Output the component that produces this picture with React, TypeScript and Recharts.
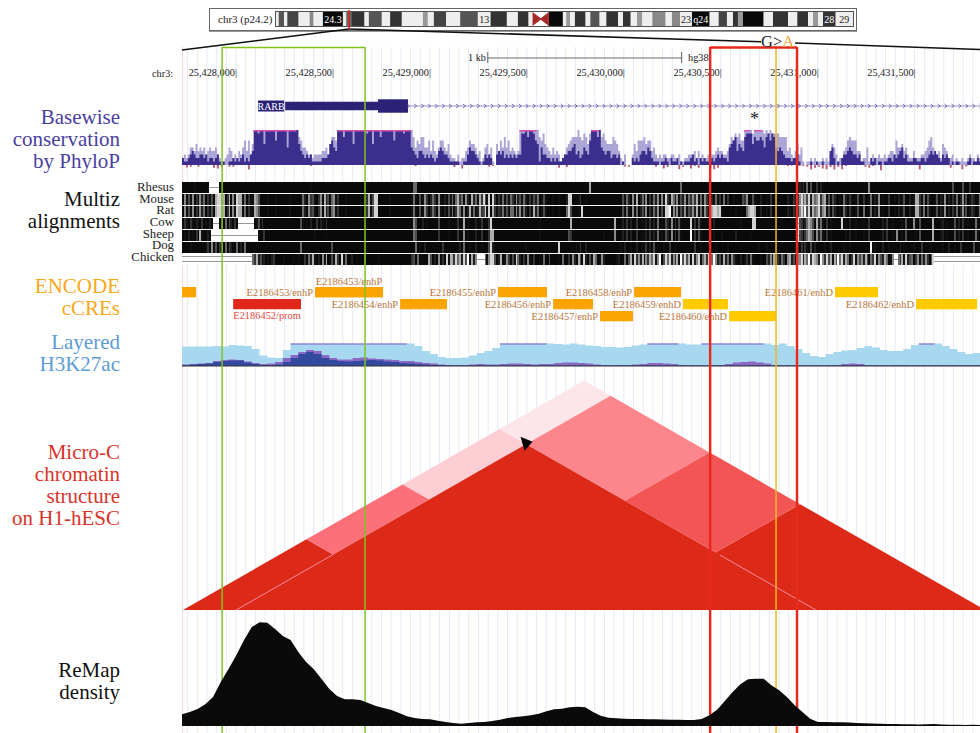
import React from "react";
import { Area, Bar, BarChart, ComposedChart, Line, ReferenceArea, ReferenceDot, ReferenceLine, XAxis, YAxis } from "recharts";

const SERIF = "'Liberation Serif', serif";
const START = 25427721;
const END = 25431837;
const TRACK_LEFT = 182;
const TRACK_W = 798;

const rulerTicks = [25428000, 25428500, 25429000, 25429500, 25430000, 25430500, 25431000, 25431500];

// phyloP, 10 bp cells, one digit per cell, a = clipped at 10
const phyloMean = "2112343223 3231221231 0100112121 2312134aa9 aa6aaaaa7a aaaa5aaaaa 6432323111 1122236754 aaa8aaaa6a aaaaa9aa6a aa8aaaaaa7 aaaa9aaa54 3244323232 1245433211 1110011354 4321013232 0034342323 2323399a8a a976153322 1212112334 4563423543 7aaa8a5434 4233230100 0021213443 5421110112 1021120101 1123120212 1112123232 2156784654 8999687787 5897985454 3222122310 0000100100 1000452010 2334543323 1100021201 1011221323 4523111221 1221234343 2132320101 1000012011 2111101000";
const phyloMax = "2323554645 4534544532 1123542324 3574736aaa aaaaaaaaaa aaaaaaaaaa 8755433233 3344536887 aaaaaaaaaa aaaaaaaaaa aaaaaaaaaa aaaaaaaaa8 5768855747 4357754632 2131224576 6534125635 1064758574 5434aaaaaa aaaa879654 3534312356 7888a87986 9aaaaa8976 6687642130 0036477786 7745323233 2233213112 2333414232 2323345443 3468798977 aaaa9aaaaa 9a9a999988 8845324635 1011212011 2121365312 2457877744 1225113223 2232344375 5645322412 2334578533 4265422312 1121123221 3222212100";
const phyloDip = [
  0, .7, .5, 0, .5, 0, 0, 0, .8, 1,
  .6, 0, .5, .5, 0, 0, 0, 1.3, 0, 0,
  0, 0, 0, 0, 0, 0, 0, 0, 0, 0,
  0, 0, 0, .3, 0, 0, 0, 0, 0, 0,
  0, 0, 0, 0, 0, 0, 0, 0, 0, 0,
  0, 0, 0, 0, 0, 0, 0, 0, 0, 0,
  .3, 0, 0, 0, 0, 0, 0, 0, 0, 0,
  .6, 0, 1, 0, 0, 0, 0, 0, 0, .5,
  .3, 0, 0, 0, 0, 0, 0, 0, 0, 0,
  0, 0, 0, 0, 0, 0, 0, .8, 0, .6,
  0, 0, 0, 0, 0, 0, 0, 0, 0, 0,
  0, 0, 0, 0, .4, .5, 0, 0, 0, 0,
  0, 0, .5, 0, 1, .6, 0, 0, 1.2, .5,
  0, 1, .3, .8, 0, 0, 1, 1.2, .8, 0,
  0, 0, 0, 0, 0, 0, 0, 0, 0, 0,
  0, 0, 0, 0, 0, 0, .3, .2, 0, .3,
  .3, .5, 1.3, .8, .5, 1, 1.2, .6, 1.3, .5,
  1.2, .3, 0, 0, 0, 0, .5, .8, .3, 0,
  1.5, 0, 0, 0, 0, 0, 0, 0, 0, 0,
  1.3, 0, 0, 0, 0, 0, 0, 0, .8, 0,
  0, 1.2, .4, 0, 0, 0,
];

// multiz, 10 bp cells, 0 black to 9 white, g = gap with one line, d = gap with two lines
const multizNames = ["Rhesus", "Mouse", "Rat", "Cow", "Sheep", "Dog", "Chicken"];
const multizRhesus = "0000001000 0000ggggg0 0000000000 0000000000 0000000000 0000000000 0000001000 0000000000 0000000000 0000000000 0000000000 0000000005 5000000000 0000000000 0000000000 0000000000 0000000000 0000000000 0000000000 0000000000 0000000000 7000000000 0000000000 0000000000 0000000000 0000000500 0000000000 0000000000 0000000000 0000000000 0000000000 0000000121 3050400302 0000000000 0000000000 0000600000 0000000000 0000000000 0000000000 0000000400 0040003000 0000000000";
const multizMouse = "0614160316 2503140788 7703706187 7150311764 0000100010 0000010000 0052063410 3607240561 3000100000 0010037148 8000000100 0000000015 1040163025 3061020415 1573516207 2517384180 8303151415 3162415203 1425014100 0100100028 8000130010 0000000000 0000000415 2061702516 0315260618 3175261426 1536371516 3142151305 0300100004 3600410020 0103001000 0021030368 5748275683 6714042101 0520310140 0300150216 0100300102 0140020177 3150410014 0216020315 0260401320 1504002100";
const multizRat = "0614160316 2503140788 7703706187 7150311764 0000100010 0000010000 0052063410 3607240561 3000100000 0010037148 8000000100 0000000015 1040163025 3061020415 1375160271 5127348180 7313251415 5162615203 1725014100 0100100058 4000108000 0000000000 0000000415 1061502416 0315260418 8916261426 1436271516 3147887810 0000010000 0578870020 0103001000 0021030368 5948275683 6714042101 0520310140 0500150216 0100300102 0140020177 3150410014 0216020315 0260401320 1504002100";
const multizCow = "0310310210 301020ggg0 305042030g ggggggg014 0300000000 0000000000 0410102003 0210300000 0000000000 0000000000 0000000000 0000000006 4000201000 0040000100 0030070100 0200300038 0000000000 0000000000 0000100000 0000000000 7000000000 0000000000 0007000203 0200300102 0302050104 2060304100 0080304100 0000200000 0000000010 0000880000 0000000000 0000000g43 0257640725 1030100000 8010200100 0100300000 0203001000 0104000610 4000000700 0120100040 2030010005 1050100210";
const multizSheep = "0102010307 10020ggggg gggggggggg ggggggggg0 0030000000 0000000000 0000000010 0000100000 0000000000 0000000000 0000000000 0000000005 4000000000 0030000100 0030060100 0200300037 7000000000 0000000000 0000100000 0000000004 3000000000 0000000100 0006000203 0200300102 0302050104 2060304100 0090304100 0000100010 0000020000 0001000000 0000000000 0000000g43 0357640625 1030100000 0010200100 0100300000 0203001060 0104000010 4000000700 0120100040 2030010005 1050100210";
const multizDog = "0000100000 0013061403 1050420050 2050000000 0000000000 0000000000 0500000000 0000000400 0000000000 0000000000 0000000000 0000000000 5010020000 0000300000 0002050010 0200100048 2000000000 0000000100 0000000000 0000800000 0001030020 0000000000 0000001020 0100200103 0204000010 0300100000 0000300100 0000010000 0100000000 0000000100 0100000000 0000000213 0310402000 0100200000 0100100000 0000090100 0200100000 2010000100 0300010000 0010020010 0300000040 1020100000";
const multizChicken = "dddddddddd dddddddddd dddddddddd dddddd5372 4120102300 0010000100 1003052710 2061700417 3081500200 1000300000 0100000000 0000000034 0501000740 2060308177 3857284917 26gggg5168 8402701630 4185203061 0300105004 0000105003 0620740820 4175016200 0000120050 4718362716 3758169048 5826371948 4718268157 3815962417 2506310020 1305100010 0426170315 3067240668 2759387629 6384717495 8275038164 6274053816 4275016gg5 3718245036 15263048dd dddddddddd dddddddddd dddddddddd";
const multizRows = [multizRhesus, multizMouse, multizRat, multizCow, multizSheep, multizDog, multizChicken];

// cCRE name, start, end, lane, label place
const ccreNames = ["", "E2186453/enhP", "E2186453/enhP", "E2186452/prom", "E2186454/enhP", "E2186455/enhP", "E2186456/enhP", "E2186457/enhP", "E2186458/enhP", "E2186459/enhD", "E2186460/enhD", "E2186461/enhD", "E2186462/enhD"];
const ccreStarts = [25427721, 25428407, 25428407, 25427985, 25428846, 25429351, 25429635, 25429877, 25430053, 25430305, 25430543, 25431089, 25431507];
const ccreEnds = [25427794, 25428758, 25428758, 25428335, 25429088, 25429604, 25429841, 25430047, 25430295, 25430537, 25430785, 25431311, 25431822];
const ccreLanes = [0, 0, 0, 1, 1, 0, 1, 2, 0, 1, 2, 0, 1];
const ccreColors = ["#f9a400", "#f9a400", "#f9a400", "#e0281a", "#f9a400", "#f9a400", "#f9a400", "#f9a400", "#f9a400", "#ffcb00", "#ffcb00", "#ffcb00", "#ffcb00"];
const ccrePlaces = ["left", "left", "top", "bottom", "left", "left", "left", "left", "left", "left", "left", "left", "left"];

// H3K27ac, 40 bp bins
const acPale = [19.5, 19.5, 19.5, 19.5, 20, 19.5, 21, 20.5, 20, 17, 10.5, 8.5, 8, 16, 22.5, 22.5, 22.5, 22.5, 22.5, 22.5, 22.5, 22.5, 22.5, 22.5, 22.5, 22.5, 22.5, 22.5, 22.5, 22.5, 20, 15, 12, 9, 8, 8, 8.5, 10.5, 13, 15, 18, 22.5, 22.5, 22.5, 22.5, 22.5, 22.5, 22.5, 22, 21.5, 22.5, 21.5, 20.5, 20, 19, 19, 18.5, 19, 20.5, 21.5, 22.5, 22.5, 22.5, 22.5, 22.5, 21.5, 21.5, 22.5, 22.5, 22.5, 22.5, 22.5, 22.5, 22.5, 22.5, 22.5, 21, 22.5, 20, 17, 13, 10, 9, 12, 14, 15.5, 16, 18, 20, 18.5, 16, 15, 15, 17, 21, 22.5, 22.5, 22.5, 20, 17, 14, 12, 13, 14];
const acPurple = [1.5, 2, 2.5, 3, 5, 6, 6.5, 6, 4.5, 3, 2, 2.5, 4, 8, 11, 14, 16, 15, 11, 8, 6.5, 6.5, 8, 8.5, 7.5, 7, 6.5, 6, 5, 5, 4, 3, 2.5, 1.5, 1, 1, 1, 1.5, 2, 1.5, 1.5, 2, 2.5, 2.5, 2, 1.5, 2, 2, 3, 3.5, 3.5, 3, 2.5, 1.5, 1, .8, 1, 1, 1.5, 2, 3, 3, 2.5, 2, 1, .8, .8, .8, .8, 1, 2, 3.5, 4, 4.5, 3.5, 2.5, 1, .8, .8, .8, .8, .8, .8, .8, 1, 2, 2.5, 2, .8, .8, .8, .8, .8, .8, .8, .8, .8, .8, .8, .8, .8, .8, .8, .8];
const acBlue = [1, 1.5, 2, 2.5, 4, 5, 5.5, 5.5, 3.5, 2, 1, 1, 1.5, 4, 8, 12, 14, 12, 8, 6, 5, 4.5, 5, 5.5, 6, 5.5, 4.5, 4, 3, 2.5, 2, 1.5, 1, .8, .5, .5, .5, .5, .5, .5, .5, .5, .5, .6, .6, .6, .6, .5, .5, .5, .5, .5, .5, .5, .5, .5, .5, .5, .5, .5, .5, .5, .5, .5, .5, .5, .5, .5, .5, .5, .5, .5, .5, .5, .5, .5, .5, .5, .5, .5, .5, .5, .5, .5, .5, .5, .5, .5, .5, .5, .5, .5, .5, .5, .5, .5, .5, .5, .5, .5, .5, .5, .5, .5];

// ReMap density, 40 bp bins
const remap = [11.7, 14, 17, 21.7, 29, 44, 57, 70.7, 86, 99, 103.7, 103.3, 97, 90, 86, 74, 64, 56.7, 47, 37, 30, 26.7, 26.7, 26, 23, 20, 18, 16, 13, 9.7, 8, 7, 6.7, 5.3, 4, 3, 2.3, 3, 3.7, 4, 5, 6.3, 8, 9, 9.7, 10.7, 12.3, 14.7, 16.7, 17.3, 18.7, 19.3, 18.7, 14, 10.3, 8.3, 7.7, 7.3, 7, 7, 6.7, 6.7, 6.5, 6.3, 6.3, 6, 6, 7, 10.7, 16.3, 25, 34, 41.7, 46.7, 47.3, 47.3, 40.7, 35.7, 29, 20.7, 14, 7.3, 4, 4, 3.8, 3.7, 3.5, 3, 2.7, 2.5, 2.3, 2, 2, 1.8, 1.7, 1.5, 1.7, 2, 1.5, 1.2, 1.2, 1, 1.2, 1];

// Micro-C contact blocks, arm intervals in bp
const tadTriangles = [
  { a: 25427726, b: 25429000, fill: "#dd2a18" },
  { a: 25429955, b: 25431863, fill: "#dd2a18" },
];
const contactBlocks = [
  { u: [25427726, 25428000], v: [25430991, 25431863], fill: "#fde6e9" },
  { u: [25427726, 25428000], v: [25429991, 25430991], fill: "#fdcfd4" },
  { u: [25427726, 25428000], v: [25429000, 25429991], fill: "#fb7079" },
  { u: [25428000, 25429021], v: [25430991, 25431863], fill: "#fd858c" },
  { u: [25429021, 25429955], v: [25430991, 25431863], fill: "#f35555" },
];
const mainTad = { a: 25428000, b: 25430991, fill: "#dd2a18" };

// ideogram widths, colours and labels
const bandWidths = [2.7, 5.3, 3.3, 11.3, 11, 4, 9.3, 20, 3.3, 5, 13.3, 4.3, 13, 8.3, 11.7, 21, 5, 6, 12.3, 14, 17.7, 12.7, 16.3, 11, 10.7, 4, 16.3, 14, 3.3, 4, 4.7, 10.7, 4.7, 9.3, 6.7, 11.7, 5, 7.7, 6.3, 5.3, 10, 13.3, 6.3, 8.3, 11.7, 17.7, 9, 8.3, 6, 5, 5, 20.7, 9.3, 15, 9.3, 10.7, 5, 5, 5, 12.7, 17.3];
const bandColors = ["#eee", "#555", "#eee", "#444", "#eee", "#888", "#eee", "#0a0a0a", "#eee", "#666", "#333", "#eee", "#555", "#eee", "#333", "#eee", "#999", "#eee", "#444", "#eee", "#555", "#eee", "#333", "#eee", "#333", "#eee", "none", "#0a0a0a", "#eee", "#999", "#eee", "#333", "#eee", "#555", "#eee", "#333", "#eee", "#333", "#eee", "#999", "#eee", "#888", "#eee", "#888", "#eee", "#0a0a0a", "#eee", "#444", "#eee", "#333", "#999", "#0a0a0a", "#eee", "#333", "#eee", "#333", "#eee", "#999", "#eee", "#333", "#eee"];
const bandLabels: { [k: number]: string } = { 7: "24.3", 21: "13", 44: "23", 45: "q24", 59: "28", 60: "29" };

const geneExons = [
  { start: 25428253, end: 25428737, pad: 2.6 },
  { start: 25428732, end: 25428887, pad: 4.2 },
];
const geneChevrons = Array.from({ length: 84 }, (_, i) => ({ x: 25428890 + i * 36, y: 0 }));
const guideBp = Array.from({ length: 83 }, (_, i) => 25427750 + i * 50);

const digitValue = (c: string) => (c === "a" ? 10 : Number(c));
const phyloMaxCells = phyloMax.replace(/ /g, "").split("");
const phyloMeanCells = phyloMean.replace(/ /g, "").split("");

const phyloData = phyloMaxCells.map((c, i) => ({
  x: START + i * 10,
  max: digitValue(c),
  mean: digitValue(phyloMeanCells[i]),
  dip: i % 2 ? 0 : -(phyloDip[i / 2] || 0),
  cap: c === "a" ? [9.55, 10] : null,
}));
const acData = acPale.map((p, i) => ({
  x: START + i * 40,
  pale: p,
  purple: acPurple[i],
  blue: acBlue[i],
  cap: p >= 22.5 ? [21.5, 22.5] : null,
}));
const remapData = remap.map((h, i) => ({ x: START + i * 40, h }));

function trianglePoints(a: number, b: number) {
  return [
    { x: a, r: [0, 0] },
    { x: (a + b) / 2, r: [0, (b - a) / 2] },
    { x: b, r: [0, 0] },
  ];
}

// corners of a block in rotated contact space, x = (u+v)/2, h = (v-u)/2
function blockPoints(u: number[], v: number[]) {
  const left = { x: (u[0] + v[0]) / 2, h: (v[0] - u[0]) / 2 };
  const top = { x: (u[0] + v[1]) / 2, h: (v[1] - u[0]) / 2 };
  const bottom = { x: (u[1] + v[0]) / 2, h: (v[0] - u[1]) / 2 };
  const right = { x: (u[1] + v[1]) / 2, h: (v[1] - u[1]) / 2 };
  const upper = (x: number) => (x <= top.x ? left.h + (x - left.x) : top.h - (x - top.x));
  const lower = (x: number) => (x <= bottom.x ? left.h - (x - left.x) : bottom.h + (x - bottom.x));
  return [left, top, bottom, right]
    .map((p) => p.x)
    .sort((p, q) => p - q)
    .map((x) => ({ x, r: [lower(x), upper(x)] }));
}

function shadeOf(c: string) {
  if (c === "g" || c === "d") return "#fff";
  const g = Math.round(10 + Math.pow(Number(c), 1.6) * 7.2);
  return `rgb(${g},${g},${g})`;
}

function MultizCell(props: any) {
  const { x, y, width, height, payload } = props;
  const c = payload.c;
  return (
    <g shapeRendering="crispEdges">
      <rect x={x} y={y} width={width + 0.5} height={height} fill={shadeOf(c)} />
      {c === "g" && <rect x={x} y={y + height / 2 - 0.5} width={width + 0.5} height={1} fill="#999" />}
      {c === "d" && <rect x={x} y={y + 2} width={width + 0.5} height={1} fill="#999" />}
      {c === "d" && <rect x={x} y={y + height - 4} width={width + 0.5} height={1} fill="#999" />}
    </g>
  );
}

function MultizRow({ row, top }: { row: string; top: number }) {
  const cells = row.replace(/ /g, "").padEnd(420, "0").split("").map((c, i) => ({ i, c, v: 1 }));
  return (
    <div style={{ position: "absolute", left: TRACK_LEFT, top }}>
      <BarChart width={420 * (TRACK_W / 411.5)} height={11} data={cells} margin={{ top: 0, right: 0, bottom: 0, left: 0 }} barCategoryGap={0} barGap={0}>
        <XAxis dataKey="i" hide />
        <YAxis hide domain={[0, 1]} />
        <Bar dataKey="v" isAnimationActive={false} shape={MultizCell} />
      </BarChart>
    </div>
  );
}

function Track({ top, height, yDomain, data, children }: any) {
  return (
    <div style={{ position: "absolute", left: TRACK_LEFT, top }}>
      <ComposedChart width={TRACK_W} height={height} data={data} margin={{ top: 0, right: 0, bottom: 0, left: 0 }}>
        <XAxis type="number" dataKey="x" domain={[START, END]} allowDataOverflow hide />
        <YAxis type="number" domain={yDomain} allowDataOverflow hide />
        {children}
      </ComposedChart>
    </div>
  );
}

function RulerTick({ x, y, payload }: any) {
  return (
    <text x={x + 1} y={y} textAnchor="end" fontFamily={SERIF} fontSize={10.3} fill="#222">
      {payload.value.toLocaleString("en-US")}|
    </text>
  );
}

function Chevron({ cx, cy }: any) {
  return <path d={`M${cx - 1.5} ${cy - 2}L${cx + 1} ${cy}L${cx - 1.5} ${cy + 2}`} fill="none" stroke="#5a52a8" strokeWidth={0.8} />;
}

function Arrowhead({ cx, cy }: any) {
  return <path d={`M${cx - 6} ${cy - 7}L${cx + 6} ${cy - 2}L${cx - 2} ${cy + 7}Z`} fill="#000" />;
}

function Ideogram() {
  let pos = 0;
  const bands = bandWidths.map((w, i) => {
    const b = { x1: pos, x2: pos + w, fill: bandColors[i], label: bandLabels[i] };
    pos += w;
    return b;
  });
  const cen = bands[26];
  const bowtie = [
    { x: cen.x1, r: [0, 1] },
    { x: (cen.x1 + cen.x2) / 2, r: [0.45, 0.55] },
    { x: cen.x2, r: [0, 1] },
  ];
  return (
    <div style={{ position: "absolute", left: 276, top: 12 }}>
      <ComposedChart width={577} height={14} data={bowtie} margin={{ top: 0, right: 0, bottom: 0, left: 0 }}>
        <XAxis type="number" dataKey="x" domain={[0, pos]} hide />
        <YAxis type="number" domain={[0, 1]} hide />
        {bands.filter((b) => b.fill !== "none").map((b, i) => (
          <ReferenceArea
            key={i} x1={b.x1} x2={b.x2} y1={0} y2={1} fill={b.fill} fillOpacity={1} stroke="none"
            label={b.label ? { value: b.label, position: "center", fontFamily: SERIF, fontSize: 10, fill: b.fill === "#eee" ? "#222" : "#fff" } : undefined}
          />
        ))}
        <Area dataKey="r" type="linear" fill="#a52a2a" fillOpacity={1} stroke="none" isAnimationActive={false} />
      </ComposedChart>
    </div>
  );
}

function SideLabel({ top, color, lines }: { top: number; color: string; lines: string[] }) {
  return (
    <div style={{ position: "absolute", left: 0, width: 120, top, textAlign: "right", fontFamily: SERIF, fontSize: 21, lineHeight: "22px", color, whiteSpace: "nowrap" }}>
      {lines.map((l) => <div key={l}>{l}</div>)}
    </div>
  );
}

const boxEdges = [
  { x: 25427928, color: "#7fc41e", w: 1.5 },
  { x: 25428665, color: "#7fc41e", w: 1.5 },
  { x: 25430785, color: "#f0b428", w: 1.5 },
  { x: 25430445, color: "#e8291c", w: 2.4 },
  { x: 25430893, color: "#e8291c", w: 2.4 },
];
const axisAnchors = [{ x: START }, { x: END }];

export default function App() {
  return (
    <div style={{ position: "absolute", left: 0, top: 0, width: 980, height: 733, overflow: "hidden", background: "#fff" }}>
      {/* base guides */}
      <Track top={47} height={686} yDomain={[0, 1]}>
        {guideBp.map((g) => <ReferenceLine key={g} x={g} stroke="#e9e9f8" strokeWidth={1} />)}
        <ReferenceLine x={START + 3} stroke="#f7d4dc" strokeWidth={1} />
      </Track>

      {/* ideogram */}
      <div style={{ position: "absolute", left: 209, top: 8, width: 646, height: 21, border: "1.5px solid #666", boxShadow: "0 1px 0 #999", background: "#fff" }} />
      <div style={{ position: "absolute", left: 275, top: 11, width: 577, height: 14, border: "1px solid #555" }} />
      <div style={{ position: "absolute", left: 218, top: 13, fontFamily: SERIF, fontSize: 11, color: "#222" }}>chr3 (p24.2)</div>
      <Ideogram />

      {/* ruler */}
      <div style={{ position: "absolute", left: 152, top: 68, fontFamily: SERIF, fontSize: 10.3, color: "#222" }}>chr3:</div>
      <div style={{ position: "absolute", left: TRACK_LEFT, top: 40 }}>
        <ComposedChart width={TRACK_W} height={60} margin={{ top: 0, right: 0, bottom: 0, left: 0 }} data={axisAnchors}>
          <XAxis type="number" dataKey="x" domain={[START, END]} ticks={rulerTicks} interval={0} axisLine={false} tickLine={false} tick={RulerTick} height={30} tickMargin={0} />
          <YAxis type="number" domain={[0, 1]} hide />
        </ComposedChart>
      </div>
      <div style={{ position: "absolute", left: 468, top: 52, fontFamily: SERIF, fontSize: 10.3, color: "#222" }}>1 kb</div>
      <div style={{ position: "absolute", left: 688, top: 52, fontFamily: SERIF, fontSize: 10.3, color: "#222" }}>hg38</div>

      {/* gene */}
      <Track top={96} height={20} yDomain={[-10, 10]} data={geneChevrons}>
        <ReferenceArea x1={25428113} x2={25428248} y1={-5.5} y2={5.5} fill="#2b2278" fillOpacity={1} stroke="none"
          label={{ value: "RARB", position: "center", fontFamily: SERIF, fontSize: 10, fill: "#fff" }} />
        <Line dataKey="y" stroke="#6a64b0" strokeWidth={0.7} isAnimationActive={false} dot={Chevron} />
        {geneExons.map((e) => (
          <ReferenceArea key={e.start} x1={e.start} x2={e.end} y1={-e.pad * 1.6} y2={e.pad * 1.6} fill="#2b2278" fillOpacity={1} stroke="none" />
        ))}
      </Track>
      <div style={{ position: "absolute", left: 750, top: 109, fontFamily: SERIF, fontSize: 18, color: "#222" }}>*</div>

      {/* phyloP */}
      <Track top={130} height={45} yDomain={[-2.86, 10]} data={phyloData}>
        <Area dataKey="max" type="stepAfter" fill="#aba6d6" fillOpacity={1} stroke="none" isAnimationActive={false} />
        <Area dataKey="mean" type="stepAfter" fill="#3b2e8c" fillOpacity={1} stroke="none" isAnimationActive={false} />
        <Area dataKey="dip" type="stepAfter" fill="#b8607a" fillOpacity={1} stroke="none" isAnimationActive={false} />
        <Area dataKey="cap" type="stepAfter" fill="#d94fb0" fillOpacity={1} stroke="none" isAnimationActive={false} />
      </Track>

      {/* multiz */}
      {multizRows.map((row, i) => <MultizRow key={i} row={row} top={182 + i * 12.05} />)}
      {multizNames.map((n, i) => (
        <div key={n} style={{ position: "absolute", right: 806, top: 182 + i * 11.65, fontFamily: SERIF, fontSize: 12.8, lineHeight: "11px", color: "#222" }}>{n}</div>
      ))}

      {/* cCREs */}
      <Track top={275} height={60} yDomain={[4, -1]}>
        {ccreNames.map((name, i) => (
          <ReferenceArea
            key={i} x1={ccreStarts[i]} x2={ccreEnds[i]} y1={ccreLanes[i]} y2={ccreLanes[i] + 0.86}
            fill={ccreColors[i]} fillOpacity={1} stroke="none"
            label={name ? { value: name, position: ccrePlaces[i], offset: 2, fontFamily: SERIF, fontSize: 10.4, fill: i === 3 ? "#e8483c" : "#b8773a" } : undefined}
          />
        ))}
      </Track>

      {/* H3K27ac */}
      <Track top={341} height={27} yDomain={[-2, 25]} data={acData}>
        <Area dataKey="pale" type="stepAfter" fill="#a8d8f0" fillOpacity={1} stroke="none" isAnimationActive={false} />
        <Area dataKey="cap" type="stepAfter" fill="#7f5fc4" fillOpacity={1} stroke="none" isAnimationActive={false} />
        <Area dataKey="purple" type="stepAfter" fill="#8a68c4" fillOpacity={1} stroke="none" isAnimationActive={false} />
        <Area dataKey="blue" type="stepAfter" fill="#33499f" fillOpacity={1} stroke="none" isAnimationActive={false} />
        <ReferenceLine y={0} stroke="#333" strokeWidth={1} />
      </Track>

      {/* Micro-C */}
      {tadTriangles.map((t) => (
        <Track key={t.a} top={379} height={231} yDomain={[0, 2083]} data={trianglePoints(t.a, t.b)}>
          <Area dataKey="r" type="linear" fill={t.fill} fillOpacity={1} stroke="none" isAnimationActive={false} />
        </Track>
      ))}
      {contactBlocks.map((b) => (
        <Track key={b.fill} top={379} height={231} yDomain={[0, 2083]} data={blockPoints(b.u, b.v)}>
          <Area dataKey="r" type="linear" fill={b.fill} fillOpacity={1} stroke="none" isAnimationActive={false} />
        </Track>
      ))}
      <Track top={379} height={231} yDomain={[0, 2083]} data={trianglePoints(mainTad.a, mainTad.b)}>
        <Area dataKey="r" type="linear" fill={mainTad.fill} fillOpacity={1} stroke="none" isAnimationActive={false} />
        <ReferenceLine segment={[{ x: 25428000, y: 0 }, { x: 25428500, y: 500 }]} stroke="#f58aa0" strokeWidth={1} />
        <ReferenceLine segment={[{ x: 25430495, y: 496 }, { x: 25430991, y: 0 }]} stroke="#f58aa0" strokeWidth={1} />
        <ReferenceDot x={25429498} y={1500} r={6} shape={Arrowhead} />
      </Track>

      {/* highlight lines and zoom connector */}
      <div style={{ position: "absolute", left: 0, top: 0 }}>
        <ComposedChart width={980} height={733} margin={{ top: 0, right: 0, bottom: 0, left: TRACK_LEFT }} data={axisAnchors}>
          <XAxis type="number" dataKey="x" domain={[START, END]} allowDataOverflow hide />
          <YAxis type="number" domain={[0, 733]} reversed allowDataOverflow hide />
          <ReferenceLine segment={[{ x: START, y: 50 }, { x: 25428583, y: 29 }]} stroke="#111" strokeWidth={1.6} />
          <ReferenceLine segment={[{ x: 25428583, y: 29 }, { x: 25430708, y: 41.7 }]} stroke="#111" strokeWidth={1.6} />
          <ReferenceLine segment={[{ x: 25430883, y: 43 }, { x: END, y: 49.5 }]} stroke="#111" strokeWidth={1.6} />
          <ReferenceLine segment={[{ x: 25428583, y: 10 }, { x: 25428583, y: 29 }]} stroke="#e0201a" strokeWidth={1.5} />
          <ReferenceLine segment={[{ x: 25429298, y: 58 }, { x: 25430298, y: 58 }]} stroke="#444" strokeWidth={0.8} />
          <ReferenceLine segment={[{ x: 25429298, y: 52 }, { x: 25429298, y: 63 }]} stroke="#444" strokeWidth={0.8} />
          <ReferenceLine segment={[{ x: 25430298, y: 52 }, { x: 25430298, y: 63 }]} stroke="#444" strokeWidth={0.8} />
          {boxEdges.map((e) => (
            <ReferenceLine key={e.x} segment={[{ x: e.x, y: 47 }, { x: e.x, y: 733 }]} stroke={e.color} strokeWidth={e.w} />
          ))}
          <ReferenceLine segment={[{ x: 25427928, y: 47.5 }, { x: 25428665, y: 47.5 }]} stroke="#7fc41e" strokeWidth={1.5} />
          <ReferenceLine segment={[{ x: 25430445, y: 47.5 }, { x: 25430893, y: 47.5 }]} stroke="#e8291c" strokeWidth={2.4} />
        </ComposedChart>
      </div>

      {/* ReMap sits over the highlight lines */}
      <Track top={620} height={106} yDomain={[0, 106]} data={remapData}>
        <Area dataKey="h" type="linear" fill="#0a0a0a" fillOpacity={1} stroke="none" isAnimationActive={false} />
      </Track>

      <div style={{ position: "absolute", left: 761, top: 33, fontFamily: SERIF, fontSize: 16.5, lineHeight: "17px", color: "#222" }}>
        G&gt;<span style={{ color: "#f0a030" }}>A</span>
      </div>

      <SideLabel top={106} color="#4a3ea0" lines={["Basewise", "conservation", "by PhyloP"]} />
      <SideLabel top={188} color="#111" lines={["Multiz", "alignments"]} />
      <SideLabel top={275} color="#f9a81c" lines={["ENCODE", "cCREs"]} />
      <SideLabel top={331} color="#5b9bd5" lines={["Layered", "H3K27ac"]} />
      <SideLabel top={441} color="#d8332a" lines={["Micro-C", "chromatin", "structure", "on H1-hESC"]} />
      <SideLabel top={659} color="#111" lines={["ReMap", "density"]} />
    </div>
  );
}
